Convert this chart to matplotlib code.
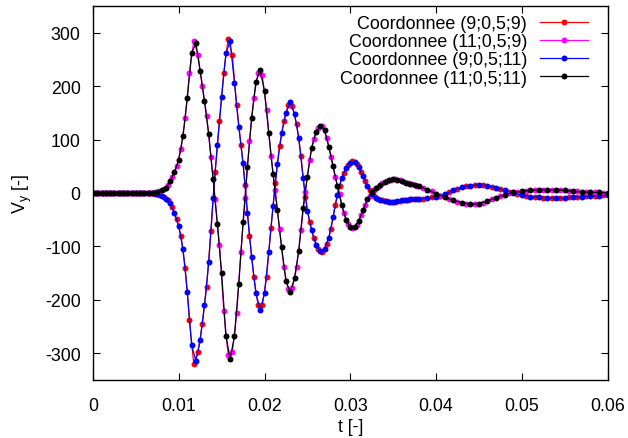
import matplotlib
matplotlib.use("Agg")
import matplotlib.pyplot as plt

plt.rcParams['font.family'] = ['Liberation Sans', 'DejaVu Sans']
plt.rcParams['axes.unicode_minus'] = False
plt.rcParams['mathtext.fontset'] = 'custom'
plt.rcParams['mathtext.rm'] = 'Liberation Sans'
plt.rcParams['mathtext.it'] = 'Liberation Sans'

# ---- data ----
t = [0.0, 0.00025, 0.0005, 0.00075, 0.001, 0.00125, 0.0015, 0.00175, 0.002, 0.00225,
     0.0025, 0.00275, 0.003, 0.00325, 0.0035, 0.00375, 0.004, 0.00425, 0.0045, 0.00475,
     0.005, 0.00525, 0.0055, 0.00575, 0.006, 0.00625, 0.0065, 0.00675, 0.007, 0.00725,
     0.0075, 0.00775, 0.008, 0.00825, 0.0085, 0.00875, 0.009, 0.00925, 0.0095, 0.00975,
     0.01, 0.01025, 0.0105, 0.01075, 0.011, 0.01125, 0.0115, 0.01175, 0.012, 0.01225,
     0.0125, 0.01275, 0.013, 0.01325, 0.0135, 0.01375, 0.014, 0.01425, 0.0145, 0.01475,
     0.015, 0.01525, 0.0155, 0.01575, 0.016, 0.01625, 0.0165, 0.01675, 0.017, 0.01725,
     0.0175, 0.01775, 0.018, 0.01825, 0.0185, 0.01875, 0.019, 0.01925, 0.0195, 0.01975,
     0.02, 0.02025, 0.0205, 0.02075, 0.021, 0.02125, 0.0215, 0.02175, 0.022, 0.02225,
     0.0225, 0.02275, 0.023, 0.02325, 0.0235, 0.02375, 0.024, 0.02425, 0.0245, 0.02475,
     0.025, 0.02525, 0.0255, 0.02575, 0.026, 0.02625, 0.0265, 0.02675, 0.027, 0.02725,
     0.0275, 0.02775, 0.028, 0.02825, 0.0285, 0.02875, 0.029, 0.02925, 0.0295, 0.02975,
     0.03, 0.03025, 0.0305, 0.03075, 0.031, 0.03125, 0.0315, 0.03175, 0.032, 0.03225,
     0.0325, 0.03275, 0.033, 0.03325, 0.0335, 0.03375, 0.034, 0.03425, 0.0345, 0.03475,
     0.035, 0.03525, 0.0355, 0.03575, 0.036, 0.03625, 0.0365, 0.03675, 0.037, 0.03725,
     0.0375, 0.03775, 0.038,
     0.0385, 0.039, 0.0395, 0.04, 0.0405, 0.041, 0.0415, 0.042, 0.0425, 0.043,
     0.0435, 0.044, 0.0445, 0.045, 0.0455, 0.046, 0.0465, 0.047, 0.0475, 0.048,
     0.0485, 0.049, 0.0495, 0.05, 0.0505, 0.051, 0.0515, 0.052, 0.0525, 0.053,
     0.0535, 0.054, 0.0545, 0.055, 0.0555, 0.056, 0.0565, 0.057, 0.0575, 0.058,
     0.0585, 0.059, 0.0595, 0.06]

# curve at points x=9 (red / blue series): negative first swing
vy_x9 = [0, 0, 0, 0, 0, 0, 0, 0, 0, 0,
         0, 0, 0, 0, 0, 0, 0, 0, 0, 0,
         0, 0, 0, 0, 0, 0, 0, -0.3, -0.6, -1,
         -2, -4, -6, -8, -11, -14, -19, -27, -38, -49,
         -62, -80, -105, -140, -185, -238, -285, -320, -314, -298,
         -275, -245, -210, -175, -130, -72, -10, 40, 90, 135,
         180, 225, 262, 288, 284, 258, 205, 165, 124, 90,
         57, 15, -38, -80, -120, -157, -188, -210, -219, -210,
         -188, -157, -110, -65, -25, 18, 55, 88, 112, 134,
         150, 164, 170, 162, 148, 129, 103, 70, 28, -8,
         -33, -54, -70, -85, -97, -104, -109, -110, -104, -96,
         -84, -68, -45, -22, -3, 14, 28, 38, 47, 53,
         57, 59, 58, 54, 48, 40, 31, 22, 13, 6,
         -1, -6, -9, -11, -13, -14, -15, -15, -16, -16,
         -16, -16, -15, -15, -14, -14, -13, -13, -12, -12,
         -11, -11, -11,
         -11, -10, -8, -7, -5, -2, 1, 5, 8, 11,
         13, 14, 15, 15, 15, 14, 12, 10, 8, 5,
         2, 0, -2, -4, -5, -7, -8, -8, -9, -9,
         -9, -9, -9, -9, -8, -8, -7, -7, -6, -6,
         -5, -5, -4, -4]

# curve at points x=11 (magenta / black series): positive first swing
vy_x11 = [0, 0, 0, 0, 0, 0, 0, 0, 0, 0,
          0, 0, 0, 0, 0, 0, 0, 0, 0, 0,
          0, 0, 0, 0, 0, 0, 0, 0.3, 0.6, 1,
          1.5, 3, 5, 7, 10, 15, 22, 30, 39, 50,
          62, 82, 107, 140, 178, 225, 262, 285, 280, 258,
          228, 200, 172, 145, 110, 68, 26, -12, -58, -98,
          -150, -220, -268, -303, -310, -298, -268, -225, -170, -110,
          -55, -10, 48, 98, 140, 178, 208, 225, 230, 220,
          190, 155, 112, 70, 35, 5, -32, -68, -102, -138,
          -165, -180, -185, -178, -160, -138, -108, -70, -28, 2,
          30, 62, 85, 102, 114, 121, 125, 125, 118, 103,
          87, 68, 50, 30, 13, -2, -22, -38, -50, -58,
          -63, -65, -64, -59, -52, -42, -32, -22, -12, -5,
          1, 5, 9, 12, 15, 18, 20, 22, 24, 25,
          26, 26, 25, 24, 22, 21, 19, 18, 17, 16,
          15, 14, 13,
          10, 6, 3, -1, -5, -8, -11, -14, -16, -18,
          -20, -21, -21, -20, -18, -15, -12, -9, -6, -3,
          0, 1, 2, 3, 4, 5, 5, 6, 6, 6,
          6, 6, 5, 5, 4, 3, 3, 2, 2, 1,
          1, 1, 0, 0]

labels = ['Coordonnee (9;0,5;9)', 'Coordonnee (11;0,5;9)',
          'Coordonnee (9;0,5;11)', 'Coordonnee (11;0,5;11)']
colors = ['#ff0000', '#ff00ff', '#0000ff', '#000000']

x_ticks = [0, 0.01, 0.02, 0.03, 0.04, 0.05, 0.06]
x_ticklabels = ['0', '0.01', '0.02', '0.03', '0.04', '0.05', '0.06']
y_ticks = [-300, -200, -100, 0, 100, 200, 300]

# ---- figure ----
fig = plt.figure(figsize=(6.28, 4.39), dpi=100)
ax = fig.add_axes([93 / 628, 1 - 381 / 439, (607.5 - 93) / 628, (381 - 7) / 439])

series = [
    (t[1::2], vy_x9[1::2]),
    (t[1::2], vy_x11[1::2]),
    (t[0::2], vy_x9[0::2]),
    (t[0::2], vy_x11[0::2]),
]
for (tx, vy), lab, col in zip(series, labels, colors):
    ax.plot(tx, vy, '-', color=col, lw=0.9, marker='o', ms=4.3,
            mec='none', mfc=col, label=lab)

ax.set_xlim(0, 0.06)
ax.set_ylim(-350, 350)
ax.set_xticks(x_ticks)
ax.set_xticklabels(x_ticklabels)
ax.set_yticks(y_ticks)
ax.tick_params(direction='in', length=5, width=0.8, top=True, right=True,
               labelsize=12.8, colors='black')
ax.tick_params(axis='x', pad=12)
ax.tick_params(axis='y', pad=9)
for s in ax.spines.values():
    s.set_linewidth(1.0)

ax.set_xlabel('t [-]', fontsize=12.8, labelpad=3)
ax.set_ylabel(r'V$_{\mathrm{y}}$ [-]', fontsize=12.8, labelpad=8)

leg = ax.legend(loc='upper right', frameon=False, markerfirst=False,
                fontsize=12.9, handlelength=2.7, handletextpad=0.7,
                labelspacing=0.06, borderaxespad=0.12,
                bbox_to_anchor=(0.98, 1.0))
for txt in leg.get_texts():
    txt.set_ha('right')

fig.savefig('out.png', dpi=100)
